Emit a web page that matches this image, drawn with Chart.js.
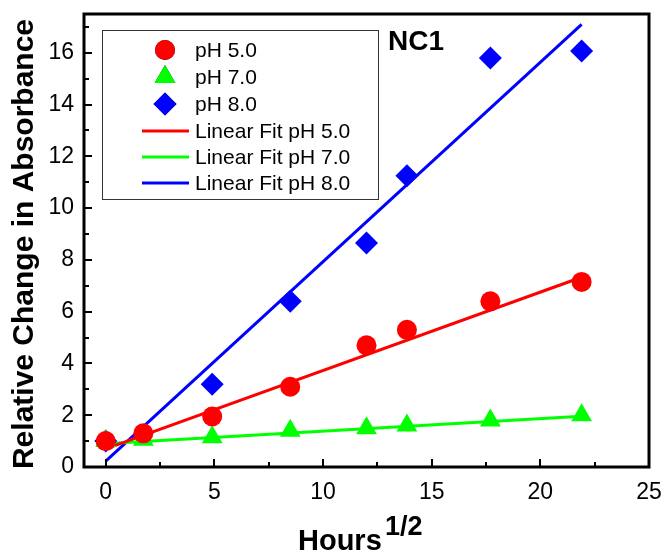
<!DOCTYPE html>
<html>
<head>
<meta charset="utf-8">
<script src="https://cdn.jsdelivr.net/npm/chart.js@4.4.0/dist/chart.umd.min.js"></script>
<style>
  body { margin: 0; background: #fff; }
  #wrap { width: 666px; height: 553px; }
</style>
</head>
<body>
<div id="wrap"><canvas id="nc1" width="666" height="553"></canvas></div>
<script>
// x values are sqrt(hours)
var sqrtHours = [0, 1.73, 4.90, 8.49, 12.0, 13.86, 17.7, 21.9];
var ph5 = [1.0, 1.3, 1.95, 3.1, 4.7, 5.3, 6.4, 7.15];
var ph7 = [1.0, 1.05, 1.15, 1.4, 1.5, 1.6, 1.8, 2.0];
var ph8X = [0, 4.90, 8.49, 12.0, 13.86, 17.7, 21.9];
var ph8 = [1.0, 3.2, 6.4, 8.65, 11.25, 15.8, 16.07];

// linear fit end points
var fit5X = [0, 21.8],     fit5Y = [0.7, 7.3];
var fit7X = [-0.45, 21.7], fit7Y = [0.88, 1.95];
var fit8X = [0, 21.9],     fit8Y = [0.23, 17.1];

var xTicks = [0, 5, 10, 15, 20, 25];
var xMinor = [2.5, 7.5, 12.5, 17.5, 22.5];
var yTicks = [0, 2, 4, 6, 8, 10, 12, 14, 16];
var yMinor = [1, 3, 5, 7, 9, 11, 13, 15, 17];

function pts(xs, ys) {
  return xs.map(function (x, i) { return { x: x, y: ys[i] }; });
}

var RED = '#ff0000', GREEN = '#00ff00', BLUE = '#0000ff';
var FONT = '"Liberation Sans", Arial, sans-serif';

// frame, inward ticks, legend box and titles
var decor = {
  id: 'decor',
  afterDraw: function (chart) {
    var ctx = chart.ctx, a = chart.chartArea;
    var xs = chart.scales.x, ys = chart.scales.y;
    ctx.save();
    ctx.strokeStyle = '#000';
    ctx.lineWidth = 3;
    ctx.strokeRect(a.left, a.top, a.right - a.left, a.bottom - a.top);

    ctx.lineWidth = 2;
    ctx.beginPath();
    yTicks.forEach(function (v) {
      var p = Math.round(ys.getPixelForValue(v));
      ctx.moveTo(a.left, p); ctx.lineTo(a.left + 8, p);
    });
    yMinor.forEach(function (v) {
      var p = Math.round(ys.getPixelForValue(v));
      ctx.moveTo(a.left, p); ctx.lineTo(a.left + 5, p);
    });
    xTicks.forEach(function (v) {
      var p = Math.round(xs.getPixelForValue(v));
      ctx.moveTo(p, a.bottom); ctx.lineTo(p, a.bottom - 8);
    });
    xMinor.forEach(function (v) {
      var p = Math.round(xs.getPixelForValue(v));
      ctx.moveTo(p, a.bottom); ctx.lineTo(p, a.bottom - 5);
    });
    ctx.stroke();

    // legend
    ctx.lineWidth = 1;
    ctx.strokeStyle = '#333';
    ctx.strokeRect(102.5, 30.5, 276, 169);
    var rowY = [50, 77, 104, 131, 157, 183];
    ctx.font = '21px ' + FONT;
    ctx.textBaseline = 'middle';
    ctx.textAlign = 'left';
    chart.data.datasets.forEach(function (ds, i) {
      var y = rowY[i];
      if (ds.showLine) {
        ctx.strokeStyle = ds.borderColor;
        ctx.lineWidth = 3;
        ctx.beginPath(); ctx.moveTo(142, y); ctx.lineTo(189, y); ctx.stroke();
      } else {
        Chart.helpers.drawPoint(ctx, {
          pointStyle: ds.pointStyle, radius: ds.pointRadius, borderWidth: 0, rotation: 0
        }, 165, y);
        ctx.fillStyle = ds.backgroundColor;
        ctx.fill();
      }
      ctx.fillStyle = '#000';
      ctx.fillText(ds.label, 195, y + 1);
    });

    ctx.fillStyle = '#000';
    ctx.font = 'bold 28px ' + FONT;
    ctx.textBaseline = 'alphabetic';
    ctx.fillText('NC1', 388, 50);

    ctx.font = 'bold 29px ' + FONT;
    ctx.fillText('Hours', 298, 550);
    ctx.font = 'bold 27px ' + FONT;
    ctx.fillText('1/2', 385, 535);

    ctx.save();
    ctx.translate(33, 244);
    ctx.rotate(-Math.PI / 2);
    ctx.textAlign = 'center';
    ctx.font = 'bold 30px ' + FONT;
    ctx.fillText('Relative Change in Absorbance', 0, 0);
    ctx.restore();
    ctx.restore();
  }
};

function markers(label, data, color, style, r) {
  return {
    label: label, data: data, showLine: false, order: 0,
    pointStyle: style, pointRadius: r, pointHoverRadius: r,
    backgroundColor: color, borderColor: color, pointBorderWidth: 0
  };
}
function fitLine(label, data, color) {
  return {
    label: label, data: data, showLine: true, order: 1,
    borderColor: color, backgroundColor: color, borderWidth: 3, pointRadius: 0
  };
}

new Chart(document.getElementById('nc1'), {
  type: 'scatter',
  data: {
    datasets: [
      markers('pH 5.0', pts(sqrtHours, ph5), RED, 'circle', 10),
      markers('pH 7.0', pts(sqrtHours, ph7), GREEN, 'triangle', 12),
      markers('pH 8.0', pts(ph8X, ph8), BLUE, 'rectRot', 11.5),
      fitLine('Linear Fit pH 5.0', pts(fit5X, fit5Y), RED),
      fitLine('Linear Fit pH 7.0', pts(fit7X, fit7Y), GREEN),
      fitLine('Linear Fit pH 8.0', pts(fit8X, fit8Y), BLUE)
    ]
  },
  options: {
    responsive: false,
    animation: false,
    layout: { padding: { top: 14, right: 17, left: 0, bottom: 0 } },
    plugins: { legend: { display: false }, tooltip: { enabled: false } },
    scales: {
      x: {
        type: 'linear', min: -1, max: 25,
        grid: { display: false, drawTicks: false },
        border: { display: false },
        afterBuildTicks: function (s) { s.ticks = xTicks.map(function (v) { return { value: v }; }); },
        afterFit: function (s) { s.height = 86; s.paddingLeft = 0; s.paddingRight = 0; },
        ticks: { color: '#000', font: { family: FONT, size: 23 }, padding: 12, maxRotation: 0 }
      },
      y: {
        type: 'linear', min: 0, max: 17.5,
        grid: { display: false, drawTicks: false },
        border: { display: false },
        afterBuildTicks: function (s) { s.ticks = yTicks.map(function (v) { return { value: v }; }); },
        afterFit: function (s) { s.width = 84; s.paddingTop = 0; s.paddingBottom = 0; },
        ticks: { color: '#000', font: { family: FONT, size: 23 }, padding: 10 }
      }
    }
  },
  plugins: [decor]
});
</script>
</body>
</html>
